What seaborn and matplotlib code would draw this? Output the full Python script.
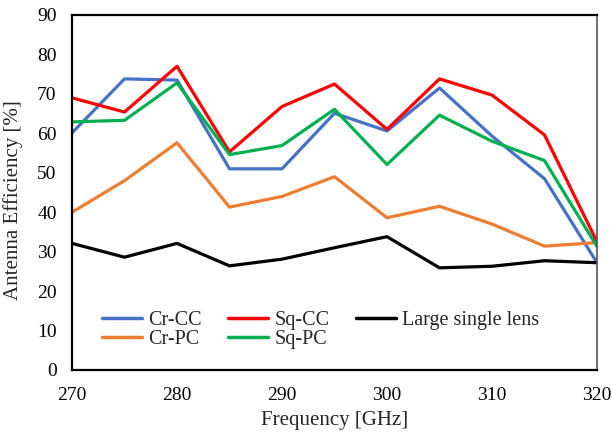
import matplotlib
matplotlib.use("Agg")
import matplotlib.pyplot as plt
import seaborn as sns
import pandas as pd

freq = [270, 275, 280, 285, 290, 295, 300, 305, 310, 315, 320]
cr_cc = [60.1, 73.8, 73.5, 51.0, 51.0, 65.1, 60.6, 71.5, 59.3, 48.5, 27.2]
sq_cc = [69.0, 65.4, 77.0, 55.3, 66.8, 72.5, 61.0, 73.8, 69.7, 59.6, 32.5]
cr_pc = [40.0, 48.0, 57.6, 41.3, 44.0, 49.0, 38.6, 41.5, 37.0, 31.4, 32.3]
sq_pc = [62.9, 63.3, 72.8, 54.6, 56.9, 66.1, 52.1, 64.6, 58.0, 53.1, 31.3]
large = [32.1, 28.6, 32.1, 26.4, 28.1, 31.0, 33.8, 25.9, 26.3, 27.7, 27.2]

series_names = ["Cr-CC", "Cr-PC", "Sq-CC", "Sq-PC", "Large single lens"]
series_values = [cr_cc, cr_pc, sq_cc, sq_pc, large]
colors = ["#4472C4", "#ED7D31", "#FF0000", "#00B050", "#000000"]

rows = []
for name, vals in zip(series_names, series_values):
    for f, v in zip(freq, vals):
        rows.append({"Frequency": f, "Efficiency": v, "Series": name})
df = pd.DataFrame(rows)

sns.set_style("white")
plt.rcParams["font.family"] = ["Liberation Serif", "DejaVu Serif"]

fig = plt.figure(figsize=(6.12, 4.41), dpi=100)
ax = fig.add_axes([72 / 612, 1 - 370 / 441, (597 - 72) / 612, (370 - 15) / 441])

sns.lineplot(data=df, x="Frequency", y="Efficiency", hue="Series",
             hue_order=series_names, palette=colors, linewidth=2.3, ax=ax,
             legend=False)

ax.set_xlim(270, 320)
ax.set_ylim(0, 90)
ax.set_xticks(range(270, 321, 10))
ax.set_yticks(range(0, 91, 10))
ax.tick_params(axis="both", direction="in", length=5, width=1.3,
               labelsize=14, colors="black")
ax.tick_params(axis="y", pad=11)
ax.tick_params(axis="x", pad=12)
for s in ax.spines.values():
    s.set_color("black")
    s.set_linewidth(1.6)
ax.spines["right"].set_color("#555555")
ax.spines["right"].set_linewidth(1.2)

ax.set_xlabel("Frequency [GHz]", fontsize=15)
ax.set_ylabel("Antenna Efficiency [%]", fontsize=15)
ax.xaxis.set_label_coords(0.5, -0.115)
ax.yaxis.set_label_coords(-0.093, 0.479)

handles = [plt.Line2D([], [], color=c, linewidth=2.5) for c in colors]
ax.legend(handles, series_names, ncol=3, loc="lower left",
          bbox_to_anchor=(0.057, 0.058), frameon=False, fontsize=14.5,
          handlelength=2.0, handletextpad=0.3, columnspacing=1.3,
          labelspacing=0.0, borderaxespad=0, borderpad=0)

fig.savefig("out.png", dpi=100)
